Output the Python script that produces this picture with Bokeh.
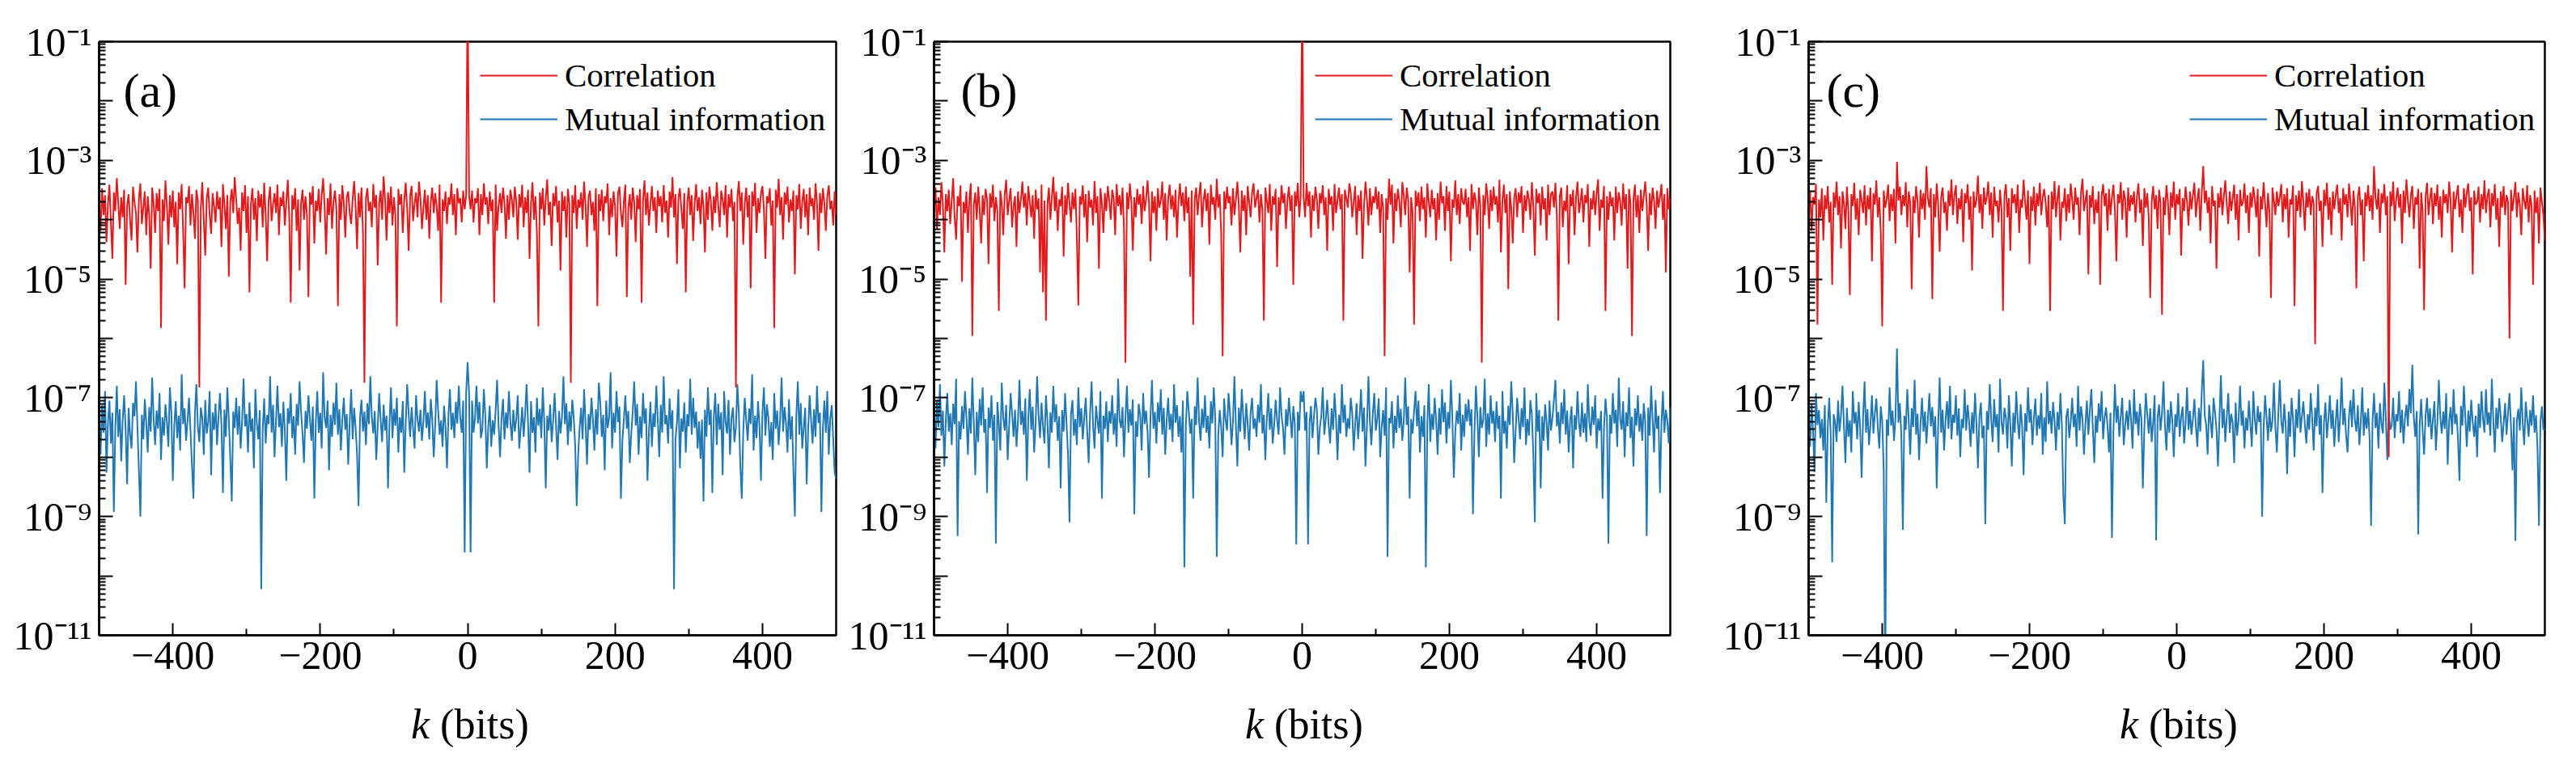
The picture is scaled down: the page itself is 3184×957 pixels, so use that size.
from bokeh.plotting import figure
from bokeh.layouts import row, column
from bokeh.models import (Range1d, FixedTicker, Label, Legend, LegendItem,
                          CustomJSTickFormatter, Div)
from bokeh.embed import file_html
from bokeh.resources import INLINE

# ---------------- data ----------------
k_bits = list(range(-500, 501, 2))

corr_a = [
    2.1e-4, 6.5e-5, 3.4e-4, 1.2e-4, 2.6e-4, 4.2e-5, 1.8e-4, 3.9e-4, 9.0e-5, 2.2e-5, 2.9e-4, 1.4e-4, 5.0e-4, 1.9e-4, 7.0e-5, 2.4e-4, 1.1e-4, 3.2e-4, 8.0e-6, 1.7e-4,
    2.7e-4, 1.0e-4, 4.5e-5, 3.6e-4, 2.0e-4, 1.3e-4, 2.8e-5, 2.3e-4, 4.1e-4, 8.5e-5, 1.6e-4, 3.0e-4, 5.5e-5, 2.5e-4, 1.2e-4, 1.5e-5, 3.5e-4, 1.9e-4, 6.0e-5, 2.8e-4,
    1.4e-4, 3.3e-4, 1.5e-6, 2.2e-4, 9.5e-5, 4.6e-4, 1.7e-4, 3.8e-5, 2.6e-4, 1.1e-4, 3.1e-4, 7.5e-5, 2.0e-4, 1.8e-5, 2.9e-4, 1.5e-4, 4.0e-4, 6.5e-5, 7.0e-6, 2.4e-4,
    1.9e-4, 3.7e-4, 8.0e-5, 2.7e-4, 1.3e-4, 4.8e-5, 3.2e-4, 2.1e-4, 1.5e-7, 1.6e-4, 4.3e-4, 1.0e-4, 2.5e-5, 2.3e-4, 3.5e-4, 1.2e-4, 5.8e-5, 2.8e-4, 1.7e-4, 9.0e-5,
    3.0e-4, 1.5e-4, 2.4e-4, 3.5e-5, 4.0e-4, 1.8e-4, 7.0e-5, 2.6e-4, 1.1e-5, 2.0e-4, 3.3e-4, 1.3e-4, 5.2e-4, 2.2e-4, 8.5e-5, 1.6e-4, 3.0e-5, 2.9e-4, 1.4e-4, 3.8e-4,
    6.0e-5, 2.5e-4, 6.0e-6, 1.9e-4, 3.4e-4, 1.0e-4, 2.3e-4, 4.4e-5, 3.1e-4, 1.6e-4, 2.7e-4, 7.5e-5, 4.2e-4, 1.2e-4, 2.0e-5, 2.1e-4, 3.6e-4, 9.5e-5, 1.8e-4, 2.8e-4,
    1.3e-4, 3.9e-4, 5.5e-5, 2.4e-4, 1.7e-4, 3.0e-4, 8.0e-5, 2.0e-4, 4.7e-4, 1.1e-4, 4.0e-6, 2.6e-4, 1.5e-4, 3.4e-4, 6.5e-5, 2.2e-4, 1.4e-5, 1.9e-4, 3.2e-4, 1.0e-4,
    2.5e-4, 1.2e-4, 5.0e-6, 2.9e-4, 1.8e-4, 3.7e-4, 4.0e-5, 2.1e-4, 1.4e-4, 3.3e-4, 9.0e-5, 2.6e-4, 5.0e-4, 1.6e-4, 2.6e-5, 2.3e-4, 1.2e-4, 4.1e-4, 7.0e-5, 2.0e-4,
    3.1e-4, 1.5e-4, 3.5e-6, 2.7e-4, 1.0e-4, 3.8e-4, 1.9e-4, 5.0e-5, 2.4e-4, 3.0e-4, 1.3e-4, 8.5e-5, 2.2e-4, 4.5e-4, 1.7e-4, 3.2e-5, 2.8e-4, 1.1e-4, 3.5e-4, 6.0e-5,
    1.8e-7, 2.3e-4, 3.4e-4, 1.4e-4, 2.0e-4, 7.5e-5, 4.0e-4, 1.6e-4, 2.6e-4, 1.7e-5, 1.9e-4, 3.1e-4, 1.0e-4, 5.4e-4, 2.2e-4, 4.5e-5, 2.9e-4, 1.3e-4, 3.6e-4, 8.0e-5,
    2.4e-4, 1.2e-4, 1.6e-6, 3.3e-4, 1.8e-4, 2.7e-4, 6.0e-5, 2.1e-4, 4.2e-4, 1.5e-4, 3.0e-5, 2.5e-4, 3.7e-4, 9.5e-5, 1.9e-4, 2.9e-4, 1.1e-4, 4.4e-4, 2.3e-4, 7.0e-5,
    1.6e-4, 3.2e-4, 1.0e-4, 2.6e-4, 4.8e-5, 2.0e-4, 3.5e-4, 1.3e-4, 2.8e-4, 1.7e-4, 6.5e-5, 3.9e-4, 4.0e-6, 2.2e-4, 1.4e-4, 3.0e-4, 8.5e-5, 2.4e-4, 1.8e-4, 4.1e-4,
    1.2e-4, 2.7e-4, 5.5e-5, 3.4e-4, 1.9e-4, 2.3e-4, 9.0e-5, 3.1e-4, 1.5e-4, 2.6e-4, 1.0, 2.6e-4, 1.5e-4, 3.1e-4, 9.0e-5, 2.3e-4, 1.9e-4, 3.4e-4, 5.5e-5, 2.7e-4,
    1.2e-4, 4.1e-4, 1.8e-4, 2.4e-4, 8.5e-5, 3.0e-4, 1.4e-4, 2.2e-4, 4.0e-6, 3.9e-4, 6.5e-5, 1.7e-4, 2.8e-4, 1.3e-4, 3.5e-4, 2.0e-4, 4.8e-5, 2.6e-4, 1.0e-4, 3.2e-4,
    2.2e-4, 1.1e-4, 3.6e-4, 2.0e-4, 4.6e-5, 2.7e-4, 1.6e-4, 3.9e-4, 7.5e-5, 2.4e-4, 1.3e-4, 3.2e-4, 2.2e-5, 1.9e-4, 4.3e-4, 1.0e-4, 2.5e-4, 6.0e-5, 1.6e-6, 2.9e-4,
    1.5e-4, 3.4e-4, 8.0e-5, 2.3e-4, 4.8e-4, 1.2e-4, 2.0e-4, 3.6e-5, 2.8e-4, 1.7e-4, 3.7e-4, 9.0e-5, 2.1e-4, 1.4e-5, 3.0e-4, 1.4e-4, 2.5e-4, 5.0e-5, 3.3e-4, 1.9e-4,
    1.8e-7, 2.6e-4, 1.3e-4, 3.8e-4, 7.0e-5, 2.2e-4, 1.6e-4, 2.9e-4, 1.0e-4, 4.4e-4, 1.8e-4, 3.5e-5, 2.4e-4, 3.1e-4, 1.2e-4, 2.0e-4, 6.5e-5, 3.4e-4, 3.5e-6, 2.7e-4,
    1.4e-4, 3.2e-4, 9.5e-5, 2.5e-4, 1.9e-4, 4.1e-4, 5.5e-5, 2.3e-4, 1.1e-4, 3.0e-4, 1.7e-4, 2.4e-5, 2.8e-4, 3.6e-4, 1.3e-4, 7.5e-5, 2.1e-4, 3.9e-4, 5.0e-6, 1.6e-4,
    2.7e-4, 1.0e-4, 3.5e-4, 2.0e-4, 4.2e-5, 2.6e-4, 1.5e-4, 3.3e-4, 4.0e-6, 2.2e-4, 4.6e-4, 1.2e-4, 2.9e-4, 8.0e-5, 1.8e-4, 3.7e-4, 1.4e-4, 2.4e-4, 6.0e-5, 3.1e-4,
    1.7e-4, 2.5e-4, 9.0e-5, 3.8e-4, 1.3e-4, 2.1e-4, 5.0e-5, 3.0e-4, 1.6e-4, 5.2e-4, 1.1e-4, 2.7e-4, 1.8e-5, 2.3e-4, 3.4e-4, 1.5e-4, 7.0e-5, 2.8e-4, 6.0e-6, 2.0e-4,
    3.5e-4, 1.2e-4, 2.6e-4, 4.4e-5, 1.9e-4, 4.0e-4, 1.4e-4, 2.4e-4, 8.5e-5, 3.2e-4, 1.7e-4, 2.8e-5, 2.9e-4, 1.0e-4, 3.6e-4, 2.1e-4, 6.5e-5, 2.5e-4, 1.3e-4, 4.3e-4,
    1.8e-4, 7.5e-5, 3.1e-4, 2.2e-4, 1.2e-4, 3.8e-4, 5.0e-5, 2.7e-4, 1.6e-4, 3.3e-4, 9.5e-5, 2.0e-4, 1.5e-7, 2.4e-4, 4.5e-4, 1.4e-4, 2.9e-4, 3.8e-5, 1.9e-4, 3.5e-4,
    1.1e-4, 2.6e-4, 7.0e-6, 3.0e-4, 1.7e-4, 4.2e-4, 6.0e-5, 2.3e-4, 1.3e-4, 2.8e-4, 3.7e-4, 1.5e-4, 2.2e-5, 2.5e-4, 1.9e-4, 3.4e-4, 8.0e-5, 2.1e-4, 1.5e-6, 3.2e-4,
    1.6e-4, 4.9e-4, 1.2e-4, 2.4e-4, 4.6e-5, 2.9e-4, 1.8e-4, 3.6e-4, 9.0e-5, 2.2e-4, 1.4e-4, 3.1e-4, 1.2e-5, 2.6e-4, 1.5e-4, 4.0e-4, 7.0e-5, 2.0e-4, 3.3e-4, 1.1e-4,
    2.7e-4, 5.5e-5, 3.5e-4, 1.7e-4, 2.3e-4, 1.0e-4, 4.1e-4, 2.0e-4, 3.0e-5, 2.8e-4, 1.3e-4, 3.4e-4, 1.9e-4, 6.5e-5, 2.5e-4, 3.8e-4, 1.5e-4, 2.1e-4, 8.0e-5, 3.0e-4,
    1.2e-4,
]

mi_a = [
    4.5e-8, 1.1e-8, 7.5e-8, 2.6e-8, 1.3e-7, 5.5e-9, 3.8e-8, 9.0e-8, 1.7e-8, 5.6e-8, 1.2e-9, 3.1e-8, 1.6e-7, 2.2e-8, 6.4e-8, 8.5e-9, 4.2e-8, 1.1e-7, 2.9e-8, 3.5e-9,
    6.8e-8, 2.4e-8, 1.4e-8, 8.2e-8, 4.9e-8, 1.9e-7, 3.3e-8, 6.0e-9, 1.0e-9, 5.2e-8, 2.0e-8, 9.5e-8, 3.7e-8, 1.2e-8, 7.0e-8, 2.7e-8, 2.2e-7, 4.4e-8, 1.6e-8, 6.1e-8,
    3.0e-8, 1.2e-7, 9.0e-9, 4.7e-8, 2.3e-8, 7.8e-8, 3.9e-8, 1.5e-8, 1.5e-7, 5.8e-8, 4.0e-9, 3.4e-8, 8.8e-8, 2.1e-8, 5.0e-8, 1.3e-8, 2.5e-7, 3.6e-8, 6.6e-8, 1.9e-8,
    4.1e-8, 1.0e-7, 2.8e-8, 7.2e-9, 2.0e-9, 5.4e-8, 1.7e-7, 3.2e-8, 1.8e-8, 6.9e-8, 4.6e-8, 1.1e-8, 9.2e-8, 2.5e-8, 3.9e-8, 1.3e-7, 5.0e-9, 5.7e-8, 2.9e-8, 8.0e-8,
    1.6e-8, 4.8e-8, 1.2e-7, 3.5e-8, 2.5e-9, 6.3e-8, 2.2e-8, 1.5e-7, 4.3e-8, 9.5e-9, 1.8e-9, 5.9e-8, 3.1e-8, 1.0e-7, 2.4e-8, 7.3e-8, 1.4e-8, 4.0e-8, 2.1e-7, 3.3e-8,
    5.3e-8, 1.2e-8, 8.4e-8, 2.7e-8, 4.5e-8, 6.5e-9, 1.4e-7, 3.8e-8, 2.0e-8, 6.2e-8, 6.0e-11, 3.0e-8, 9.8e-8, 1.7e-8, 5.1e-8, 3.6e-8, 2.3e-7, 2.6e-8, 7.6e-8, 1.0e-8,
    4.2e-8, 1.6e-7, 3.2e-8, 5.5e-8, 1.5e-8, 8.6e-8, 2.8e-8, 4.0e-9, 6.7e-8, 3.7e-8, 1.2e-7, 2.1e-8, 4.9e-8, 1.1e-8, 7.9e-8, 3.4e-8, 1.9e-7, 5.8e-8, 2.5e-8, 8.0e-9,
    6.0e-8, 3.0e-8, 1.1e-7, 4.4e-8, 1.9e-8, 7.1e-8, 2.0e-9, 3.9e-8, 1.3e-7, 2.6e-8, 5.6e-8, 1.4e-8, 2.7e-7, 4.7e-8, 3.1e-8, 9.0e-8, 6.0e-9, 5.2e-8, 2.2e-8, 8.3e-8,
    3.5e-8, 1.8e-7, 2.4e-8, 6.4e-8, 1.3e-8, 4.3e-8, 1.0e-7, 2.9e-8, 5.3e-8, 7.5e-9, 3.8e-8, 1.4e-7, 2.0e-8, 6.8e-8, 3.2e-8, 1.1e-8, 1.5e-9, 4.6e-8, 9.3e-8, 2.7e-8,
    5.9e-8, 1.6e-8, 8.1e-8, 3.6e-8, 2.3e-7, 4.8e-8, 2.5e-8, 6.0e-8, 9.0e-9, 3.3e-8, 1.2e-7, 4.1e-8, 1.8e-8, 7.7e-8, 2.8e-8, 5.0e-8, 3.0e-9, 3.9e-8, 1.5e-7, 2.1e-8,
    6.5e-8, 3.4e-8, 1.0e-7, 1.2e-8, 4.7e-8, 2.6e-8, 8.8e-8, 5.5e-9, 3.7e-8, 1.7e-7, 5.4e-8, 2.2e-8, 7.0e-8, 3.0e-8, 1.4e-8, 1.1e-7, 4.4e-8, 2.7e-8, 6.3e-8, 1.9e-8,
    4.0e-8, 1.3e-7, 3.1e-8, 5.7e-8, 2.0e-8, 9.6e-8, 4.5e-8, 1.0e-8, 3.5e-8, 2.0e-7, 6.1e-8, 2.4e-8, 4.2e-8, 1.5e-8, 7.4e-8, 3.3e-8, 6.5e-9, 5.1e-8, 1.4e-7, 2.9e-8,
    5.6e-8, 2.1e-8, 8.5e-8, 3.7e-8, 1.6e-7, 4.6e-8, 2.6e-8, 9.0e-8, 2.5e-10, 1.2e-7, 4.0e-7, 1.2e-7, 2.5e-10, 9.0e-8, 2.6e-8, 4.6e-8, 1.6e-7, 3.7e-8, 8.5e-8, 2.1e-8,
    2.9e-8, 1.4e-7, 5.1e-8, 6.5e-9, 3.3e-8, 7.4e-8, 1.5e-8, 4.2e-8, 2.4e-8, 6.1e-8, 2.0e-7, 3.5e-8, 1.0e-8, 4.5e-8, 9.6e-8, 2.0e-8, 5.7e-8, 3.1e-8, 1.3e-7, 4.0e-8,
    1.9e-8, 6.3e-8, 2.7e-8, 4.4e-8, 1.1e-7, 1.4e-8, 3.0e-8, 7.0e-8, 2.2e-8, 5.4e-8, 1.7e-7, 3.7e-8, 5.5e-9, 8.8e-8, 2.6e-8, 4.7e-8, 1.2e-8, 1.0e-7, 3.4e-8, 6.5e-8,
    2.1e-8, 1.5e-7, 3.9e-8, 3.0e-9, 5.0e-8, 2.8e-8, 7.7e-8, 1.8e-8, 4.1e-8, 1.2e-7, 3.3e-8, 9.0e-9, 6.0e-8, 2.5e-8, 4.8e-8, 2.3e-7, 3.6e-8, 8.1e-8, 1.6e-8, 5.9e-8,
    2.7e-8, 9.3e-8, 4.6e-8, 1.5e-8, 1.5e-9, 1.1e-8, 3.2e-8, 6.8e-8, 2.0e-8, 1.4e-7, 3.8e-8, 7.5e-9, 5.3e-8, 2.9e-8, 1.0e-7, 4.3e-8, 1.3e-8, 6.4e-8, 2.4e-8, 1.8e-7,
    8.3e-8, 2.2e-8, 5.2e-8, 6.0e-9, 9.0e-8, 3.1e-8, 4.7e-8, 2.7e-7, 1.4e-8, 5.6e-8, 2.6e-8, 1.3e-7, 3.9e-8, 7.1e-8, 2.0e-9, 1.9e-8, 4.4e-8, 1.1e-7, 3.0e-8, 6.0e-8,
    8.0e-9, 2.5e-8, 5.8e-8, 1.9e-7, 3.4e-8, 7.9e-8, 1.1e-8, 4.9e-8, 2.1e-8, 1.2e-7, 3.7e-8, 6.7e-8, 4.0e-9, 2.8e-8, 8.6e-8, 1.5e-8, 5.5e-8, 3.2e-8, 1.6e-7, 4.2e-8,
    1.0e-8, 7.6e-8, 2.6e-8, 2.3e-7, 3.6e-8, 5.1e-8, 1.7e-8, 9.8e-8, 3.0e-8, 6.2e-8, 6.0e-11, 2.0e-8, 3.8e-8, 1.4e-7, 6.5e-9, 4.5e-8, 2.7e-8, 8.4e-8, 1.2e-8, 5.3e-8,
    3.3e-8, 2.1e-7, 2.4e-8, 1.0e-7, 3.1e-8, 5.9e-8, 1.4e-8, 4.0e-8, 9.5e-9, 4.3e-8, 1.8e-9, 6.3e-8, 2.2e-8, 1.5e-7, 3.5e-8, 6.3e-8, 2.5e-9, 4.8e-8, 1.2e-7, 1.6e-8,
    8.0e-8, 2.9e-8, 5.7e-8, 5.0e-9, 1.3e-7, 3.9e-8, 2.5e-8, 9.2e-8, 1.1e-8, 4.6e-8, 6.9e-8, 1.8e-8, 3.2e-8, 1.7e-7, 5.4e-8, 7.2e-9, 2.0e-9, 2.8e-8, 1.0e-7, 4.1e-8,
    1.9e-8, 6.6e-8, 3.6e-8, 2.5e-7, 1.3e-8, 5.0e-8, 2.1e-8, 8.8e-8, 3.4e-8, 4.0e-9, 5.8e-8, 1.5e-7, 2.3e-8, 7.8e-8, 4.7e-8, 1.5e-8, 3.9e-8, 9.0e-9, 1.2e-7, 3.0e-8,
    6.1e-8, 1.6e-8, 4.4e-8, 2.2e-7, 2.7e-8, 7.0e-8, 3.7e-8, 1.2e-8, 9.5e-8, 2.0e-8, 4.9e-8, 6.0e-9, 1.0e-9, 5.2e-8, 1.9e-7, 2.4e-8, 8.2e-8, 1.4e-8, 3.1e-8, 6.8e-8,
    3.5e-9, 2.9e-8, 1.1e-7, 4.2e-8, 1.7e-8, 6.4e-8, 2.2e-8, 1.6e-7, 3.8e-8, 5.6e-8, 1.2e-9, 3.1e-8, 9.0e-8, 2.6e-8, 1.3e-7, 1.1e-8, 4.5e-8, 7.5e-8, 2.0e-8, 5.5e-9,
    4.3e-9,
]

corr_b = [
    1.6e-4, 3.5e-4, 7.0e-5, 2.4e-4, 1.2e-4, 4.3e-4, 1.9e-4, 2.8e-5, 2.7e-4, 1.4e-4, 3.2e-4, 8.5e-5, 2.1e-4, 5.0e-4, 1.1e-4, 4.6e-5, 2.5e-4, 1.7e-4, 3.8e-4, 9.0e-6,
    2.0e-4, 1.3e-4, 3.0e-4, 6.0e-5, 2.3e-4, 4.1e-4, 1.1e-6, 1.8e-4, 2.9e-4, 1.0e-4, 3.6e-4, 1.5e-4, 4.0e-5, 2.6e-4, 1.2e-4, 3.3e-4, 2.2e-4, 1.8e-5, 2.8e-4, 1.6e-4,
    3.9e-4, 9.5e-5, 2.4e-4, 1.4e-4, 2.9e-6, 3.1e-4, 1.9e-4, 5.5e-5, 2.7e-4, 4.7e-4, 1.2e-4, 2.1e-4, 3.4e-4, 7.5e-5, 1.7e-4, 2.5e-4, 3.5e-5, 3.0e-4, 1.3e-4, 2.2e-4,
    4.4e-4, 1.6e-4, 2.8e-4, 8.0e-5, 3.7e-4, 2.0e-4, 1.1e-4, 2.6e-4, 4.8e-5, 3.2e-4, 1.5e-4, 2.3e-4, 1.3e-5, 3.9e-4, 6.0e-6, 2.1e-4, 2.0e-6, 1.8e-4, 3.5e-4, 1.0e-4,
    2.4e-4, 5.3e-4, 1.4e-4, 3.0e-4, 6.5e-5, 2.2e-4, 1.7e-4, 3.6e-4, 2.4e-5, 2.6e-4, 1.2e-4, 4.2e-4, 1.9e-4, 9.0e-5, 2.9e-4, 1.5e-4, 3.3e-4, 5.0e-5, 3.6e-6, 2.5e-4,
    1.8e-4, 3.8e-4, 1.1e-4, 2.7e-4, 4.2e-5, 3.1e-4, 1.6e-4, 2.2e-4, 8.0e-5, 4.5e-4, 1.3e-4, 2.5e-4, 1.5e-5, 3.4e-4, 1.9e-4, 6.0e-5, 2.8e-4, 1.4e-4, 3.7e-4, 2.1e-4,
    1.0e-4, 3.2e-4, 2.3e-4, 5.5e-5, 4.0e-4, 1.7e-4, 2.6e-4, 1.2e-4, 3.5e-4, 7.0e-5, 3.9e-7, 2.9e-4, 1.5e-4, 4.1e-4, 2.0e-4, 3.0e-5, 2.4e-4, 1.1e-4, 3.3e-4, 1.8e-4,
    2.7e-4, 8.5e-5, 3.7e-4, 1.4e-4, 2.2e-4, 4.6e-4, 1.9e-4, 2.0e-5, 3.0e-4, 1.3e-4, 2.5e-4, 6.5e-5, 3.4e-4, 1.6e-4, 2.1e-4, 4.4e-4, 1.0e-4, 2.8e-4, 4.5e-5, 2.3e-4,
    3.9e-4, 1.5e-4, 2.6e-4, 1.1e-4, 3.2e-4, 5.0e-5, 2.0e-4, 4.1e-4, 1.7e-4, 2.9e-4, 9.5e-5, 3.6e-4, 1.3e-4, 2.4e-4, 1.1e-5, 3.1e-4, 1.7e-6, 2.2e-4, 3.5e-4, 1.2e-4,
    2.6e-4, 4.3e-4, 7.5e-5, 2.1e-4, 3.3e-4, 1.4e-4, 2.8e-4, 3.8e-5, 3.9e-4, 1.8e-4, 2.4e-4, 1.0e-4, 4.9e-4, 1.6e-4, 2.7e-4, 6.0e-5, 5.0e-7, 3.0e-4, 1.5e-4, 3.6e-4,
    1.9e-4, 2.5e-4, 8.0e-5, 3.4e-4, 1.2e-4, 2.2e-4, 4.4e-4, 1.7e-4, 2.8e-5, 3.1e-4, 1.4e-4, 2.6e-4, 5.5e-5, 3.7e-4, 2.0e-4, 1.1e-4, 2.9e-4, 4.1e-4, 1.6e-4, 2.3e-4,
    3.2e-4, 9.0e-5, 2.7e-4, 1.5e-4, 2.0e-6, 3.5e-4, 2.1e-4, 1.3e-4, 4.0e-4, 6.5e-5, 2.5e-4, 1.8e-4, 3.3e-4, 1.6e-5, 2.4e-4, 1.2e-4, 3.8e-4, 1.9e-4, 2.8e-4, 7.0e-5,
    2.2e-4, 3.6e-4, 1.4e-4, 2.6e-4, 8.0e-6, 3.0e-4, 1.7e-4, 4.2e-4, 1.1e-4, 2.4e-4, 1.0, 2.4e-4, 1.1e-4, 4.2e-4, 1.7e-4, 3.0e-4, 5.0e-5, 2.6e-4, 1.4e-4, 3.6e-4,
    2.2e-4, 7.0e-5, 2.8e-4, 1.9e-4, 3.8e-4, 1.2e-4, 2.4e-4, 3.0e-5, 3.3e-4, 1.8e-4, 2.5e-4, 6.5e-5, 4.0e-4, 1.3e-4, 2.1e-4, 3.5e-4, 1.5e-4, 2.7e-4, 2.0e-6, 3.2e-4,
    2.3e-4, 1.6e-4, 4.1e-4, 2.9e-4, 1.1e-4, 2.0e-4, 3.7e-4, 5.5e-5, 2.6e-4, 1.4e-4, 3.1e-4, 2.2e-5, 1.7e-4, 4.4e-4, 2.2e-4, 8.0e-5, 3.4e-4, 1.2e-4, 2.5e-4, 1.9e-4,
    3.6e-4, 1.5e-4, 3.0e-4, 6.0e-5, 2.7e-4, 1.6e-4, 5.0e-7, 2.3e-4, 1.0e-4, 4.9e-4, 1.8e-4, 3.9e-4, 4.0e-5, 2.8e-4, 1.4e-4, 3.3e-4, 2.1e-4, 7.5e-5, 4.3e-4, 2.6e-4,
    1.2e-4, 3.5e-4, 2.2e-4, 1.3e-5, 2.4e-4, 1.3e-4, 1.7e-6, 3.1e-4, 1.7e-4, 2.9e-4, 9.5e-5, 3.6e-4, 1.5e-4, 2.4e-4, 5.0e-5, 4.1e-4, 2.0e-4, 1.1e-4, 3.2e-4, 1.5e-4,
    2.3e-4, 4.5e-5, 2.8e-4, 1.0e-4, 4.4e-4, 1.9e-4, 2.5e-4, 6.5e-5, 3.7e-4, 1.4e-4, 3.0e-4, 2.0e-5, 2.2e-4, 1.6e-4, 4.6e-4, 1.2e-4, 2.7e-4, 8.5e-5, 3.4e-4, 2.0e-4,
    1.8e-4, 3.3e-4, 1.1e-4, 2.4e-4, 3.0e-5, 4.0e-4, 1.5e-4, 2.9e-4, 2.0e-4, 5.5e-5, 3.5e-4, 1.7e-4, 3.9e-7, 2.6e-4, 1.2e-4, 4.1e-4, 2.3e-4, 7.0e-5, 3.2e-4, 1.4e-4,
    3.6e-4, 1.8e-4, 2.5e-4, 9.0e-5, 4.7e-4, 2.8e-5, 2.1e-4, 3.9e-4, 1.3e-4, 2.7e-4, 6.8e-6, 3.0e-4, 1.6e-4, 4.0e-5, 2.4e-4, 3.4e-4, 1.1e-4, 2.9e-4, 1.9e-4, 3.7e-4,
    6.0e-5, 2.6e-4, 1.4e-4, 3.1e-4, 2.2e-4, 1.0e-4, 4.3e-4, 1.7e-4, 2.5e-5, 3.3e-4, 1.9e-4, 2.8e-4, 8.0e-5, 3.6e-4, 1.5e-4, 2.3e-4, 4.5e-5, 3.9e-4, 1.2e-4, 2.7e-4,
    3.0e-4, 1.6e-4, 4.2e-4, 1.1e-4, 2.0e-6, 2.5e-4, 3.5e-4, 7.5e-5, 2.1e-4, 1.4e-4, 3.8e-4, 1.8e-5, 2.7e-4, 1.7e-4, 3.2e-4, 5.5e-5, 2.4e-4, 4.4e-4, 1.3e-4, 2.0e-4,
    3.4e-4, 9.0e-5, 2.6e-4, 1.9e-4, 4.0e-4, 3.5e-5, 2.3e-4, 1.5e-4, 3.1e-4, 1.2e-4, 2.8e-4, 4.8e-4, 6.5e-5, 2.2e-4, 1.6e-4, 3.7e-4, 2.9e-6, 2.5e-4, 1.0e-4, 3.0e-4,
    1.7e-4, 2.4e-4, 4.5e-5, 3.6e-4, 1.3e-4, 2.9e-4, 2.0e-4, 8.0e-5, 4.1e-4, 1.5e-4, 2.7e-4, 1.5e-5, 3.3e-4, 1.9e-4, 1.1e-6, 2.2e-4, 3.9e-4, 1.1e-4, 2.6e-4, 6.0e-5,
    3.2e-4, 1.4e-4, 2.5e-4, 4.4e-4, 1.8e-4, 3.0e-5, 2.8e-4, 1.2e-4, 3.5e-4, 2.1e-4, 7.0e-5, 3.1e-4, 1.6e-4, 2.4e-4, 4.0e-4, 1.0e-4, 2.7e-4, 1.3e-5, 3.4e-4, 1.5e-4,
    2.3e-4,
]

mi_b = [
    5.0e-8, 1.4e-8, 9.2e-8, 3.2e-8, 1.7e-7, 2.3e-8, 6.1e-8, 7.0e-9, 4.3e-8, 1.2e-7, 2.7e-8, 5.5e-8, 1.6e-8, 8.0e-8, 3.6e-8, 2.1e-7, 4.7e-10, 4.0e-8, 2.0e-8, 7.3e-8,
    3.0e-8, 1.3e-7, 4.8e-8, 1.1e-8, 6.6e-8, 2.5e-8, 2.2e-7, 3.9e-8, 5.0e-9, 5.8e-8, 1.8e-8, 9.6e-8, 3.4e-8, 1.5e-7, 2.6e-8, 4.4e-8, 2.5e-9, 6.9e-8, 3.1e-8, 1.1e-7,
    1.9e-8, 5.2e-8, 3.5e-10, 8.5e-8, 3.7e-8, 1.3e-8, 1.8e-7, 4.6e-8, 2.8e-8, 7.6e-8, 9.0e-9, 3.3e-8, 1.2e-7, 5.4e-8, 2.2e-8, 6.3e-8, 1.5e-8, 4.1e-8, 2.0e-7, 3.5e-8,
    6.0e-8, 2.4e-8, 9.8e-8, 4.0e-9, 4.5e-8, 1.4e-7, 2.9e-8, 7.1e-8, 1.2e-8, 3.8e-8, 2.3e-7, 5.1e-8, 2.1e-8, 8.3e-8, 3.3e-8, 1.7e-8, 1.1e-7, 4.2e-8, 6.5e-9, 5.7e-8,
    2.6e-8, 1.6e-7, 3.9e-8, 7.8e-8, 1.9e-8, 4.9e-8, 3.0e-9, 6.2e-8, 2.7e-8, 1.2e-7, 3.6e-8, 1.1e-8, 8.0e-10, 5.3e-8, 9.1e-8, 2.3e-8, 4.4e-8, 1.6e-8, 1.5e-7, 3.2e-8,
    6.7e-8, 2.0e-8, 4.6e-8, 1.0e-7, 2.8e-8, 8.0e-9, 5.6e-8, 1.9e-7, 3.5e-8, 1.4e-8, 7.4e-8, 4.1e-8, 2.5e-8, 1.3e-7, 2.0e-9, 5.0e-8, 3.0e-8, 8.7e-8, 1.8e-8, 6.0e-8,
    3.7e-8, 1.1e-7, 2.4e-8, 5.5e-8, 1.5e-8, 2.1e-7, 4.3e-8, 3.1e-8, 7.0e-8, 1.0e-8, 4.8e-8, 1.6e-7, 2.6e-8, 6.4e-8, 3.4e-8, 9.4e-8, 1.1e-9, 4.0e-8, 2.2e-8, 7.9e-8,
    5.2e-8, 1.3e-8, 1.2e-7, 3.6e-8, 6.1e-8, 2.7e-8, 4.5e-9, 4.7e-8, 2.0e-7, 3.0e-8, 5.8e-8, 1.7e-8, 8.4e-8, 3.9e-8, 1.4e-7, 2.4e-8, 6.8e-8, 1.1e-8, 4.2e-8, 1.0e-7,
    2.9e-8, 5.4e-8, 1.8e-8, 1.7e-7, 3.8e-8, 7.5e-8, 2.2e-8, 4.9e-8, 1.2e-8, 9.0e-8, 1.4e-10, 3.3e-8, 1.3e-7, 5.9e-8, 2.5e-8, 4.4e-8, 2.0e-9, 7.2e-8, 3.5e-8, 2.2e-7,
    4.1e-8, 1.9e-8, 6.5e-8, 3.1e-8, 1.1e-7, 2.6e-8, 5.0e-8, 1.4e-8, 8.8e-8, 3.7e-8, 1.5e-7, 4.6e-8, 2.1e-10, 2.3e-8, 6.2e-8, 3.2e-8, 1.0e-8, 9.8e-8, 4.3e-8, 2.8e-8,
    1.2e-7, 5.6e-8, 1.6e-8, 4.0e-8, 2.3e-7, 3.4e-8, 7.0e-9, 6.9e-8, 2.7e-8, 1.4e-7, 4.8e-8, 2.0e-8, 8.1e-8, 3.6e-8, 1.3e-8, 5.7e-8, 1.0e-7, 3.0e-8, 4.5e-8, 2.2e-8,
    7.7e-8, 3.8e-8, 1.7e-7, 2.5e-8, 5.2e-8, 9.0e-9, 4.4e-8, 1.2e-7, 2.9e-8, 6.6e-8, 1.7e-8, 3.5e-8, 9.3e-8, 4.2e-8, 2.4e-8, 1.5e-7, 5.0e-8, 3.1e-8, 1.1e-8, 6.4e-8,
    3.3e-8, 1.0e-7, 4.7e-8, 2.1e-8, 7.3e-8, 3.7e-8, 3.4e-10, 5.8e-8, 2.8e-8, 1.3e-7, 8.5e-8, 1.3e-7, 2.8e-8, 5.8e-8, 3.4e-10, 3.7e-8, 7.3e-8, 2.1e-8, 4.7e-8, 1.0e-7,
    6.4e-8, 1.1e-8, 3.1e-8, 5.0e-8, 1.5e-7, 2.4e-8, 4.2e-8, 9.3e-8, 3.5e-8, 1.7e-8, 6.6e-8, 2.9e-8, 1.2e-7, 4.4e-8, 9.0e-9, 5.2e-8, 2.5e-8, 1.7e-7, 3.8e-8, 7.7e-8,
    2.2e-8, 4.5e-8, 3.0e-8, 1.0e-7, 5.7e-8, 1.3e-8, 3.6e-8, 8.1e-8, 2.0e-8, 4.8e-8, 1.4e-7, 2.7e-8, 6.9e-8, 7.0e-9, 3.4e-8, 2.3e-7, 4.0e-8, 1.6e-8, 5.6e-8, 1.2e-7,
    2.8e-8, 4.3e-8, 9.8e-8, 1.0e-8, 3.2e-8, 6.2e-8, 2.3e-8, 1.5e-7, 2.1e-10, 4.6e-8, 3.7e-8, 8.8e-8, 1.4e-8, 5.0e-8, 2.6e-8, 1.1e-7, 3.1e-8, 6.5e-8, 1.9e-8, 4.1e-8,
    2.2e-7, 3.5e-8, 7.2e-8, 2.0e-9, 4.4e-8, 2.5e-8, 5.9e-8, 1.3e-7, 3.3e-8, 9.0e-8, 1.2e-8, 4.9e-8, 2.2e-8, 7.5e-8, 1.4e-10, 3.8e-8, 1.7e-7, 1.8e-8, 5.4e-8, 2.9e-8,
    1.0e-7, 4.2e-8, 1.1e-8, 6.8e-8, 2.4e-8, 1.4e-7, 3.9e-8, 8.4e-8, 1.7e-8, 5.8e-8, 3.0e-8, 2.0e-7, 4.7e-8, 4.5e-9, 2.7e-8, 6.1e-8, 3.6e-8, 1.2e-7, 1.3e-8, 5.2e-8,
    2.2e-8, 7.9e-8, 4.0e-8, 9.4e-8, 3.4e-8, 6.4e-8, 1.1e-9, 2.6e-8, 1.6e-7, 4.8e-8, 1.0e-8, 7.0e-8, 3.1e-8, 4.3e-8, 2.1e-7, 1.5e-8, 5.5e-8, 2.4e-8, 1.1e-7, 3.7e-8,
    6.0e-8, 1.8e-8, 8.7e-8, 3.0e-8, 5.0e-8, 2.0e-9, 1.3e-7, 2.5e-8, 4.1e-8, 1.4e-8, 7.4e-8, 3.5e-8, 1.9e-7, 5.6e-8, 8.0e-9, 2.8e-8, 1.0e-7, 4.6e-8, 2.0e-8, 6.7e-8,
    3.2e-8, 1.5e-7, 1.6e-8, 4.4e-8, 2.3e-8, 9.1e-8, 5.3e-8, 1.1e-8, 8.0e-10, 1.2e-7, 2.7e-8, 6.2e-8, 3.0e-9, 4.9e-8, 1.9e-8, 7.8e-8, 3.9e-8, 1.3e-8, 9.0e-8, 2.8e-8,
    4.7e-8, 9.4e-8, 2.0e-7, 3.3e-8, 5.8e-8, 1.7e-8, 8.4e-8, 3.6e-8, 1.4e-7, 2.4e-8, 6.1e-8, 1.2e-8, 4.2e-8, 7.2e-8, 6.5e-9, 5.1e-8, 2.9e-8, 1.3e-7, 3.8e-8, 2.2e-8,
    8.3e-8, 2.6e-8, 5.5e-8, 1.8e-8, 1.7e-7, 4.0e-8, 2.3e-8, 7.1e-8, 3.5e-8, 1.1e-7, 1.4e-8, 4.5e-8, 2.8e-8, 6.0e-8, 2.0e-9, 3.1e-8, 9.7e-8, 4.6e-8, 3.5e-10, 5.2e-8,
    2.5e-8, 1.2e-7, 3.7e-8, 6.3e-8, 1.5e-8, 2.2e-7, 4.3e-8, 2.9e-8, 8.8e-8, 1.0e-8, 5.7e-8, 3.3e-8, 1.5e-7, 2.1e-8, 4.8e-8, 7.0e-9, 6.6e-8, 3.4e-8, 1.1e-7, 2.7e-8,
    5.4e-8, 1.9e-8, 8.1e-8, 3.9e-8, 4.7e-10, 6.9e-8, 2.3e-8, 1.6e-7, 4.4e-8, 1.2e-8, 9.2e-8, 3.0e-8, 5.0e-8, 2.5e-9, 3.6e-8, 1.3e-7, 2.6e-8, 6.3e-8, 4.1e-8, 1.7e-8,
    7.0e-8,
]

corr_c = [
    1.3e-4, 3.1e-4, 6.5e-5, 2.4e-4, 1.8e-4, 4.0e-4, 1.7e-6, 2.2e-4, 1.1e-4, 3.4e-4, 4.5e-5, 2.6e-4, 1.5e-4, 3.7e-4, 9.0e-5, 2.0e-4, 8.0e-6, 2.9e-4, 1.6e-4, 4.4e-4,
    1.2e-4, 2.5e-4, 3.3e-5, 3.0e-4, 1.9e-4, 7.0e-5, 3.6e-4, 1.4e-4, 5.4e-6, 2.7e-4, 1.7e-4, 4.2e-4, 1.0e-4, 2.3e-4, 5.5e-5, 3.2e-4, 2.1e-4, 1.3e-4, 3.8e-4, 8.0e-5,
    2.6e-4, 1.5e-4, 3.5e-4, 2.0e-5, 2.8e-4, 1.8e-4, 4.6e-4, 1.1e-4, 2.4e-4, 6.0e-5, 1.6e-6, 3.1e-4, 1.6e-4, 2.2e-4, 3.9e-4, 9.5e-5, 2.7e-4, 1.4e-4, 3.3e-4, 4.0e-5,
    9.5e-4, 2.1e-4, 3.6e-4, 1.2e-4, 2.6e-4, 1.7e-4, 4.3e-4, 7.5e-5, 3.0e-4, 1.9e-4, 6.8e-6, 2.5e-4, 1.3e-4, 3.7e-4, 2.0e-4, 5.0e-5, 3.2e-4, 1.5e-4, 2.8e-4, 1.0e-4,
    8.0e-4, 2.3e-4, 1.6e-4, 3.4e-4, 4.6e-6, 2.7e-4, 1.1e-4, 4.1e-4, 1.8e-4, 2.9e-5, 2.4e-4, 3.5e-4, 1.3e-4, 2.0e-4, 6.5e-5, 3.1e-4, 1.7e-4, 4.8e-4, 1.2e-4, 2.6e-4,
    3.8e-4, 8.5e-5, 2.3e-4, 1.5e-4, 3.3e-4, 4.2e-5, 2.8e-4, 1.9e-4, 4.0e-4, 1.0e-4, 2.5e-4, 1.4e-5, 3.0e-4, 1.6e-4, 2.2e-4, 5.5e-4, 1.3e-4, 2.7e-4, 7.0e-5, 3.5e-4,
    1.8e-4, 2.4e-4, 4.4e-4, 1.2e-4, 2.9e-4, 5.0e-5, 3.6e-4, 1.7e-4, 2.1e-4, 9.0e-5, 3.2e-4, 1.5e-4, 2.9e-6, 2.6e-4, 4.0e-4, 1.1e-4, 2.3e-4, 3.0e-5, 3.4e-4, 1.9e-4,
    2.7e-4, 1.3e-4, 3.9e-4, 6.0e-5, 2.2e-4, 1.6e-4, 4.7e-4, 2.0e-4, 1.0e-4, 3.1e-4, 1.8e-5, 2.5e-4, 1.4e-4, 3.6e-4, 8.0e-5, 2.8e-4, 1.7e-4, 4.2e-4, 1.2e-4, 2.4e-4,
    3.3e-4, 1.9e-4, 7.5e-5, 2.6e-4, 2.9e-6, 3.0e-4, 1.5e-4, 4.5e-4, 1.1e-4, 2.3e-4, 3.8e-4, 4.5e-5, 2.0e-4, 1.6e-4, 3.4e-4, 9.5e-5, 2.7e-4, 1.3e-4, 4.1e-4, 2.2e-4,
    1.0e-4, 3.5e-4, 1.8e-4, 2.4e-4, 5.5e-5, 2.9e-4, 4.9e-4, 1.4e-4, 2.1e-4, 3.2e-4, 1.2e-5, 2.6e-4, 1.6e-4, 3.7e-4, 8.5e-5, 2.2e-4, 1.3e-4, 3.0e-4, 8.0e-6, 2.5e-4,
    4.0e-4, 1.7e-4, 2.8e-4, 6.5e-5, 3.3e-4, 1.2e-4, 2.4e-4, 3.9e-4, 1.5e-4, 2.0e-5, 2.7e-4, 1.9e-4, 4.3e-4, 1.0e-4, 3.1e-4, 2.2e-4, 5.0e-5, 3.5e-4, 1.4e-4, 2.6e-4,
    1.8e-4, 3.0e-4, 9.0e-5, 2.5e-4, 4.1e-4, 1.3e-4, 2.2e-4, 3.6e-5, 3.4e-4, 1.6e-4, 2.8e-4, 1.1e-4, 4.8e-6, 2.0e-4, 3.7e-4, 1.5e-4, 2.6e-4, 7.0e-5, 3.2e-4, 1.9e-4,
    2.5e-6, 2.4e-4, 1.2e-4, 3.8e-4, 2.1e-4, 5.5e-5, 2.9e-4, 1.6e-4, 4.4e-4, 1.0e-4, 2.7e-4, 1.8e-4, 3.3e-4, 2.5e-5, 2.3e-4, 1.4e-4, 3.6e-4, 2.0e-4, 8.0e-5, 3.0e-4,
    1.5e-4, 2.6e-4, 4.2e-4, 1.1e-4, 2.2e-4, 3.4e-4, 6.5e-5, 2.9e-4, 8.0e-4, 1.9e-4, 3.1e-4, 1.3e-4, 2.4e-4, 4.0e-5, 3.7e-4, 1.7e-4, 2.1e-4, 1.5e-5, 2.8e-4, 1.6e-4,
    3.5e-4, 1.2e-4, 2.5e-4, 4.6e-4, 1.8e-4, 8.5e-5, 3.0e-4, 1.4e-4, 2.3e-4, 3.9e-4, 1.0e-4, 2.7e-4, 4.5e-5, 3.2e-4, 1.7e-4, 2.0e-4, 4.1e-4, 1.3e-4, 2.6e-4, 6.0e-5,
    2.9e-4, 1.6e-4, 3.6e-4, 2.2e-4, 1.1e-4, 3.3e-4, 2.4e-5, 2.5e-4, 1.5e-4, 4.3e-4, 1.9e-4, 7.5e-5, 2.8e-4, 1.3e-4, 4.8e-6, 3.5e-4, 2.1e-4, 1.2e-4, 3.0e-4, 1.7e-4,
    2.4e-4, 4.0e-4, 9.0e-5, 2.7e-4, 1.5e-4, 3.4e-4, 5.0e-5, 2.2e-4, 1.8e-4, 3.8e-4, 3.5e-6, 2.6e-4, 1.4e-4, 3.1e-4, 1.1e-4, 4.5e-4, 2.0e-4, 6.5e-5, 2.9e-4, 1.6e-4,
    3.3e-4, 1.2e-4, 2.5e-4, 1.9e-4, 8.0e-7, 2.8e-4, 3.7e-4, 1.4e-4, 2.1e-4, 3.5e-5, 3.2e-4, 1.7e-4, 4.2e-4, 1.0e-4, 2.4e-4, 5.5e-5, 3.0e-4, 1.5e-4, 2.6e-4, 3.9e-4,
    1.3e-4, 2.3e-4, 4.5e-5, 3.4e-4, 1.8e-4, 2.7e-4, 1.1e-4, 4.1e-4, 2.0e-4, 8.0e-5, 3.1e-4, 1.6e-4, 7.0e-6, 2.5e-4, 3.6e-4, 1.2e-4, 2.2e-4, 2.0e-5, 2.9e-4, 1.7e-4,
    3.8e-4, 1.4e-4, 2.6e-4, 1.0e-4, 8.0e-4, 2.3e-4, 1.5e-4, 3.3e-4, 6.0e-5, 2.8e-4, 1.9e-4, 4.0e-4, 1.2e-4, 2.5e-4, 1.0e-8, 3.0e-4, 1.7e-4, 4.4e-4, 9.5e-5, 2.2e-4,
    3.5e-4, 1.6e-4, 2.7e-4, 4.0e-5, 3.1e-4, 1.3e-4, 4.8e-4, 2.1e-4, 1.1e-4, 2.6e-4, 3.7e-4, 7.0e-5, 2.4e-4, 1.8e-4, 3.3e-4, 1.5e-5, 2.9e-4, 1.4e-4, 3.0e-6, 2.5e-4,
    4.2e-4, 1.2e-4, 2.3e-4, 3.5e-4, 8.5e-5, 2.8e-4, 1.7e-4, 3.9e-4, 1.0e-4, 2.5e-4, 5.0e-5, 3.2e-4, 1.9e-4, 2.7e-4, 1.3e-4, 4.4e-4, 2.1e-4, 2.8e-5, 3.0e-4, 1.5e-4,
    2.6e-4, 3.8e-4, 1.1e-4, 2.2e-4, 6.0e-5, 3.4e-4, 1.6e-4, 2.9e-4, 4.1e-4, 1.4e-4, 2.4e-4, 1.2e-5, 3.1e-4, 1.8e-4, 2.0e-4, 3.6e-4, 9.0e-5, 2.7e-4, 1.5e-4, 4.6e-4,
    1.3e-4, 2.5e-4, 3.3e-4, 7.5e-5, 2.8e-4, 1.7e-4, 4.0e-4, 1.0e-4, 2.3e-4, 3.5e-5, 3.0e-4, 1.6e-4, 3.7e-4, 1.2e-4, 2.6e-4, 2.0e-4, 1.0e-6, 3.2e-4, 1.4e-4, 2.4e-4,
    4.3e-4, 1.1e-4, 2.9e-4, 1.8e-4, 5.5e-5, 3.4e-4, 2.1e-4, 1.5e-4, 3.8e-4, 9.0e-5, 2.6e-4, 1.7e-4, 8.0e-6, 3.1e-4, 1.3e-4, 2.4e-4, 4.0e-5, 3.5e-4, 2.0e-4, 1.2e-4,
    4.5e-5,
]

mi_c = [
    4.6e-8, 1.5e-8, 8.0e-8, 2.8e-8, 5.6e-9, 1.2e-7, 3.5e-8, 6.2e-8, 2.1e-8, 4.4e-8, 1.3e-8, 7.5e-8, 1.7e-9, 3.2e-8, 1.0e-7, 2.4e-8, 1.7e-10, 5.3e-8, 3.9e-8, 1.8e-8,
    9.0e-8, 2.7e-8, 5.1e-8, 1.6e-7, 3.3e-8, 8.0e-9, 6.8e-8, 2.2e-8, 4.2e-8, 1.2e-8, 1.3e-7, 3.7e-8, 5.8e-8, 2.0e-8, 8.6e-8, 3.0e-8, 4.5e-9, 4.8e-8, 1.9e-7, 2.6e-8,
    6.4e-8, 1.6e-8, 3.6e-8, 1.1e-7, 2.5e-8, 5.5e-8, 9.8e-8, 3.1e-8, 1.4e-8, 7.2e-8, 4.0e-8, 6.0e-9, 1.0e-12, 4.3e-8, 2.3e-8, 1.5e-7, 3.4e-8, 6.1e-8, 1.9e-8, 4.7e-8,
    6.8e-7, 3.8e-8, 8.2e-8, 2.1e-8, 6.0e-10, 5.0e-8, 2.9e-8, 1.4e-7, 4.1e-8, 1.1e-8, 6.7e-8, 3.2e-8, 2.0e-7, 2.4e-8, 5.4e-8, 9.0e-9, 3.7e-8, 1.0e-7, 2.7e-8, 5.9e-8,
    1.7e-8, 4.5e-8, 1.2e-7, 3.3e-8, 7.0e-8, 2.2e-8, 4.9e-8, 3.0e-9, 3.5e-8, 2.2e-7, 2.6e-8, 6.3e-8, 1.3e-8, 4.2e-8, 8.8e-8, 3.0e-8, 1.6e-7, 2.0e-8, 5.2e-8, 3.8e-8,
    1.1e-7, 2.3e-8, 6.6e-8, 1.0e-8, 4.4e-8, 3.1e-8, 1.4e-7, 2.8e-8, 7.6e-8, 4.0e-8, 1.5e-8, 5.7e-8, 2.5e-8, 1.2e-7, 3.6e-8, 6.5e-9, 4.9e-8, 8.3e-8, 2.1e-8, 3.4e-8,
    7.4e-10, 6.0e-8, 2.9e-8, 1.7e-7, 4.3e-8, 1.8e-8, 9.5e-8, 3.2e-8, 5.3e-8, 1.2e-8, 2.1e-7, 3.9e-8, 2.4e-8, 6.8e-8, 4.6e-8, 1.4e-8, 1.1e-7, 3.5e-8, 7.0e-9, 5.6e-8,
    2.6e-8, 1.3e-7, 4.1e-8, 2.0e-8, 7.8e-8, 3.3e-8, 5.0e-9, 5.5e-8, 2.7e-8, 1.5e-7, 3.8e-8, 6.4e-8, 1.6e-8, 4.5e-8, 9.7e-8, 2.3e-8, 5.1e-8, 3.0e-8, 1.2e-7, 1.1e-8,
    4.7e-8, 1.8e-8, 1.9e-7, 3.6e-8, 6.0e-8, 2.5e-8, 8.5e-8, 4.2e-8, 1.3e-8, 5.8e-8, 2.9e-8, 1.2e-7, 3.4e-8, 2.2e-9, 7.4e-10, 4.8e-8, 6.6e-8, 2.1e-8, 3.9e-8, 1.0e-7,
    3.2e-8, 5.4e-8, 1.5e-8, 1.6e-7, 2.8e-8, 7.2e-8, 4.4e-8, 1.1e-8, 3.7e-8, 9.0e-8, 2.4e-8, 6.2e-8, 1.4e-7, 3.1e-8, 8.0e-9, 5.0e-8, 2.6e-8, 8.1e-8, 4.0e-8, 1.3e-7,
    2.0e-8, 4.6e-8, 6.9e-8, 3.3e-8, 1.2e-8, 5.6e-8, 4.4e-10, 2.7e-8, 1.7e-7, 3.8e-8, 7.4e-8, 2.2e-8, 4.9e-8, 1.0e-7, 1.6e-8, 3.5e-8, 6.1e-8, 2.9e-8, 9.2e-8, 4.2e-8,
    1.4e-8, 1.4e-7, 3.6e-8, 5.9e-8, 2.3e-8, 8.0e-8, 4.5e-8, 3.0e-9, 3.1e-8, 1.2e-7, 5.2e-8, 2.5e-8, 6.6e-8, 1.8e-8, 3.9e-8, 1.1e-7, 4.0e-10, 4.7e-8, 7.7e-8, 2.8e-8,
    5.5e-8, 1.9e-7, 3.4e-8, 1.3e-8, 6.3e-8, 2.6e-8, 8.7e-8, 4.1e-8, 1.0e-8, 5.3e-8, 3.2e-8, 1.2e-7, 2.2e-8, 4.8e-8, 7.1e-8, 1.7e-8, 3.7e-8, 1.5e-7, 2.9e-8, 6.0e-8,
    2.4e-8, 4.4e-8, 9.6e-8, 3.3e-8, 1.5e-8, 6.8e-8, 2.7e-8, 1.3e-7, 4.3e-7, 5.1e-8, 3.5e-8, 1.1e-8, 7.6e-8, 4.0e-8, 2.1e-8, 1.0e-7, 5.7e-8, 3.0e-8, 7.0e-9, 4.5e-8,
    2.4e-7, 3.1e-8, 6.5e-8, 1.8e-8, 4.9e-8, 1.2e-7, 2.6e-8, 5.4e-8, 3.8e-8, 8.0e-9, 8.3e-8, 2.3e-8, 4.2e-8, 1.6e-7, 3.4e-8, 6.1e-8, 1.4e-8, 4.6e-8, 2.8e-8, 9.0e-8,
    3.6e-8, 1.5e-8, 1.3e-7, 4.4e-8, 2.4e-8, 7.3e-8, 3.9e-8, 5.8e-8, 1.0e-9, 3.0e-8, 1.1e-7, 4.7e-8, 1.9e-8, 6.7e-8, 2.7e-8, 4.1e-8, 1.8e-7, 3.2e-8, 1.2e-8, 5.5e-8,
    2.0e-7, 4.0e-8, 2.5e-8, 7.9e-8, 3.4e-8, 5.2e-9, 5.9e-8, 2.2e-8, 1.0e-7, 4.3e-8, 1.0e-8, 6.4e-8, 3.1e-8, 1.4e-7, 2.6e-8, 4.9e-8, 8.7e-8, 3.6e-8, 1.7e-8, 5.3e-8,
    2.9e-8, 1.2e-7, 4.5e-8, 1.3e-8, 6.9e-8, 3.3e-8, 1.7e-7, 2.4e-8, 5.1e-8, 2.5e-9, 3.8e-8, 8.4e-8, 2.1e-8, 4.4e-8, 1.1e-7, 3.0e-8, 6.2e-8, 1.5e-8, 4.0e-8, 9.4e-8,
    1.8e-8, 4.8e-8, 2.2e-7, 3.5e-8, 6.6e-8, 2.4e-8, 1.2e-8, 5.0e-8, 9.1e-8, 3.2e-8, 1.4e-7, 4.3e-8, 2.7e-8, 7.5e-8, 1.6e-8, 3.9e-8, 1.5e-7, 2.3e-8, 5.7e-8, 3.0e-8,
    6.6e-8, 2.0e-8, 7.0e-10, 4.2e-8, 1.2e-7, 3.1e-8, 5.6e-8, 1.4e-8, 8.2e-8, 3.7e-8, 2.5e-8, 1.8e-7, 4.6e-8, 9.0e-9, 6.0e-8, 2.9e-8, 3.4e-8, 1.0e-7, 2.1e-8, 5.3e-8,
    4.0e-8, 1.3e-7, 2.6e-8, 6.3e-8, 1.7e-8, 4.5e-8, 7.7e-8, 3.3e-8, 1.4e-7, 5.5e-8, 3.6e-7, 4.8e-8, 2.2e-8, 6.0e-8, 5.0e-10, 3.5e-8, 9.6e-8, 2.8e-8, 1.1e-8, 5.1e-8,
    1.0e-7, 3.2e-8, 6.7e-8, 2.0e-8, 4.3e-8, 8.8e-8, 1.3e-8, 3.8e-8, 2.0e-7, 4.7e-8, 2.5e-8, 5.9e-8, 3.0e-8, 1.2e-7, 7.5e-9, 4.1e-8, 7.0e-8, 2.4e-8, 1.4e-7, 3.6e-8,
    5.4e-8, 2.1e-8, 4.0e-9, 7.3e-8, 3.4e-8, 1.6e-7, 4.6e-8, 1.5e-8, 6.1e-8, 2.7e-8, 9.3e-8, 3.9e-8, 2.2e-8, 5.0e-8, 1.0e-8, 8.0e-8, 3.1e-8, 1.3e-7, 4.4e-8, 2.6e-8,
    1.4e-7, 3.5e-8, 5.7e-8, 2.3e-8, 2.1e-7, 4.2e-8, 1.2e-8, 6.8e-8, 3.0e-8, 9.9e-8, 4.9e-8, 1.8e-8, 3.7e-8, 8.2e-8, 2.4e-8, 5.5e-8, 1.2e-7, 3.3e-8, 6.0e-9, 4.7e-8,
    3.9e-10, 4.1e-8, 6.5e-8, 2.8e-8, 1.5e-7, 3.6e-8, 1.6e-8, 8.6e-8, 4.4e-8, 2.2e-8, 6.2e-8, 3.4e-8, 1.1e-7, 2.6e-8, 5.1e-8, 1.4e-8, 7.0e-10, 3.9e-8, 7.2e-8, 2.9e-8,
    3.0e-8,
]

for _s in (corr_a, mi_a, corr_b, mi_b, corr_c, mi_c):
    assert len(_s) == len(k_bits), len(_s)

panel_tags = ["(a)", "(b)", "(c)"]
series_names = ["Correlation", "Mutual information"]
x_tick_values = [-400, -200, 0, 200, 400]
x_tick_texts = ["\u2212400", "\u2212200", "0", "200", "400"]
x_minor_values = [-300, -100, 100, 300]
y_label_exponents = [-1, -3, -5, -7, -9, -11]
y_tick_texts = ["10\u207b\u00b9", "10\u207b\u00b3", "10\u207b\u2075",
                "10\u207b\u2077", "10\u207b\u2079", "10\u207b\u00b9\u00b9"]
x_title_html = "<i>k</i> (bits)"

# ---------------- style ----------------
RED = "#E31A1C"
BLUE = "#1F77B4"
FONT = "Liberation Serif"
LINE_W = 2.0
FRAME_H = 734
TOP_B = 51
BOT_B = 85
DIV_H = 70


def make_panel(corr, mi, tag, frame_w, left_b, right_b, tag_dx):
    p = figure(frame_width=frame_w, frame_height=FRAME_H,
               x_range=Range1d(-500, 500), y_range=Range1d(1e-11, 1e-1),
               y_axis_type="log", output_backend="svg", toolbar_location=None,
               min_border_left=left_b, min_border_right=right_b,
               min_border_top=TOP_B, min_border_bottom=BOT_B)
    p.background_fill_color = "white"
    p.border_fill_color = "white"
    p.outline_line_color = "black"
    p.outline_line_width = 2.5
    p.xgrid.visible = False
    p.ygrid.visible = False

    # blue first so that the red correlation trace lies on top (as in the original)
    r2 = p.line(k_bits, mi, line_color=BLUE, line_width=LINE_W)
    r1 = p.line(k_bits, corr, line_color=RED, line_width=LINE_W)

    xa = p.xaxis[0]
    xa.ticker = FixedTicker(ticks=x_tick_values, minor_ticks=x_minor_values)
    xa.major_label_overrides = {v: t for v, t in zip(x_tick_values, x_tick_texts)}
    xa.major_label_text_font = FONT
    xa.major_label_text_font_size = "50px"
    xa.major_label_text_color = "black"
    xa.major_label_standoff = 8
    xa.major_tick_in = 15
    xa.major_tick_out = 0
    xa.minor_tick_in = 8
    xa.minor_tick_out = 0
    xa.axis_line_width = 2.5
    xa.major_tick_line_width = 2
    xa.minor_tick_line_width = 2

    ya = p.yaxis[0]
    ya.ticker = FixedTicker(
        ticks=[10.0 ** e for e in range(-11, 0)],
        minor_ticks=[m * 10.0 ** e for e in range(-11, -1) for m in range(2, 10)])
    ya.formatter = CustomJSTickFormatter(
        args=dict(exps=y_label_exponents, labels=y_tick_texts),
        code="""
const e = Math.round(Math.log10(tick));
const i = exps.indexOf(e);
return i >= 0 ? labels[i] : "";
""")
    ya.major_label_text_font = FONT
    ya.major_label_text_font_size = "50px"
    ya.major_label_text_color = "black"
    ya.major_label_standoff = 9
    ya.major_tick_in = 17
    ya.major_tick_out = 0
    ya.minor_tick_in = 8
    ya.minor_tick_out = 0
    ya.axis_line_width = 2.5
    ya.major_tick_line_width = 2
    ya.minor_tick_line_width = 2

    # panel tag
    p.add_layout(Label(x=-500, y=1e-1, text=tag, text_font=FONT,
                       text_font_size="60px", text_color="black",
                       text_align="left", text_baseline="alphabetic",
                       x_offset=tag_dx, y_offset=-60))

    legend = Legend(items=[LegendItem(label=series_names[0], renderers=[r1]),
                           LegendItem(label=series_names[1], renderers=[r2])],
                    location=(471, 614))
    legend.glyph_width = 96
    legend.glyph_height = 44
    legend.label_height = 44
    legend.label_standoff = 9
    legend.spacing = 6
    legend.padding = 0
    legend.margin = 0
    legend.border_line_color = None
    legend.background_fill_alpha = 0
    legend.label_text_font = FONT
    legend.label_text_font_size = "41px"
    legend.label_text_color = "black"
    p.add_layout(legend)

    fig_w = left_b + frame_w + right_b
    pad = int(round(left_b + frame_w / 2 - 70))
    div = Div(text=('<div style="padding-left:%dpx; white-space:nowrap; '
                    'font-family:\'Liberation Serif\'; font-size:52px; '
                    'line-height:52px; color:black;">%s</div>') % (pad, x_title_html),
              width=fig_w, height=DIV_H, margin=(0, 0, 0, 0),
              styles={"font-family": "Liberation Serif", "font-size": "52px",
                      "line-height": "52px", "color": "black"})
    return column(p, div, spacing=0)


ca = make_panel(corr_a, mi_a, panel_tags[0], 911, 122, 2, 30)
cb = make_panel(corr_b, mi_b, panel_tags[1], 910, 119, 2, 33)
cc = make_panel(corr_c, mi_c, panel_tags[2], 910, 169, 20, 22)

layout = row(ca, cb, cc, spacing=0)
open("out.html", "w").write(file_html(layout, INLINE))
